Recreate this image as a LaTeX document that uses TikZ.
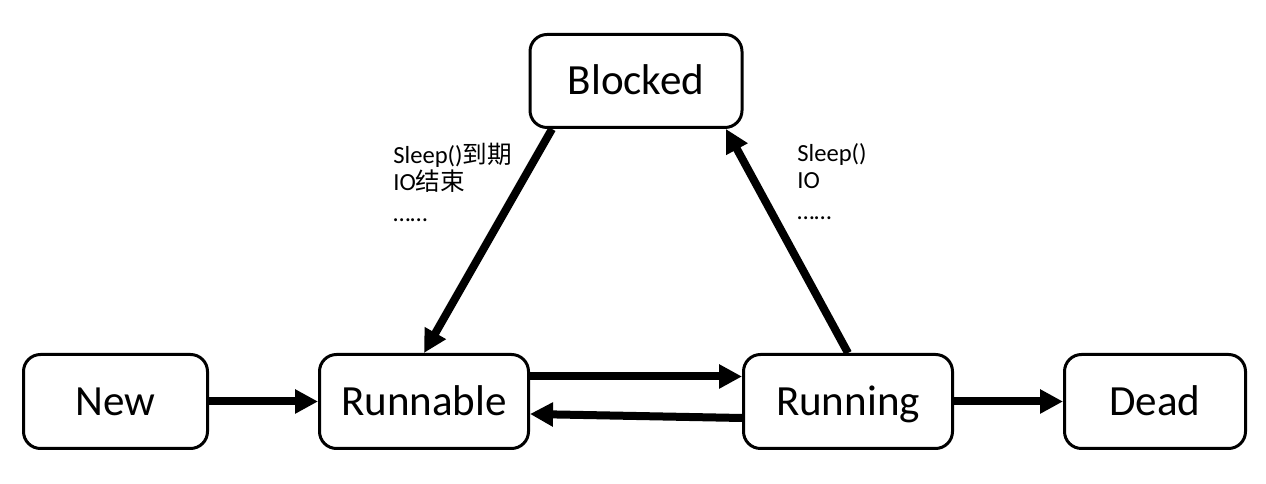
\documentclass[tikz,border=0pt]{standalone}
\usepackage{fontspec}
\setmainfont{Carlito}
\newfontfamily\cjk{Noto Sans CJK SC}
\usetikzlibrary{positioning,arrows.meta,calc}

\begin{document}
\begin{tikzpicture}[
  node distance=2.18cm,
  state/.style={draw, line width=0.06cm, rounded corners=0.34cm, fill=white, align=center,
    minimum width=4.18cm, minimum height=1.88cm, inner sep=2pt, text height=0.56cm, text depth=0pt,
    font=\fontsize{24.5}{29}\selectfont},
  arrow/.style={-{Triangle[length=0.46cm,width=0.46cm]}, line width=0.16cm},
  lbl/.style={font=\fontsize{14}{15.5}\selectfont, align=left, anchor=north west, inner sep=0pt}
]
\useasboundingbox (0,0) rectangle (25.32,9.68);
\node[state, minimum width=3.68cm] (new) at (2.31,1.65) {New};
\node[state, right=of new] (runnable) {Runnable};
\node[state, right=4.24cm of runnable] (running) {Running};
\node[state, right=of running, minimum width=3.62cm] (dead) {Dead};
\node[state, minimum width=4.24cm, minimum height=1.86cm] (blocked)
  at ($(runnable)!0.5!(running)+(0,6.41)$) {Blocked};

\draw[arrow] (new) -- (runnable);
\draw[arrow] ([yshift=0.5cm]runnable.east) -- ([yshift=0.5cm]running.west);
\draw[arrow] ([yshift=-0.33cm]running.west) -- ([yshift=-0.25cm]runnable.east);
\draw[arrow] (running) -- (dead);
\draw[arrow] ([xshift=-1.68cm]blocked.south) -- (runnable.north);
\draw[arrow] (running.north) -- ([xshift=1.8cm]blocked.south);

\node[lbl] (wakeup) at (7.86,6.82) {Sleep()\cjk{到期}\\ IO\cjk{结束}\\[2pt] ……};
\node[lbl] (waitfor) at (15.94,6.82) {Sleep()\\ IO\\[2pt] ……};
\end{tikzpicture}
\end{document}
